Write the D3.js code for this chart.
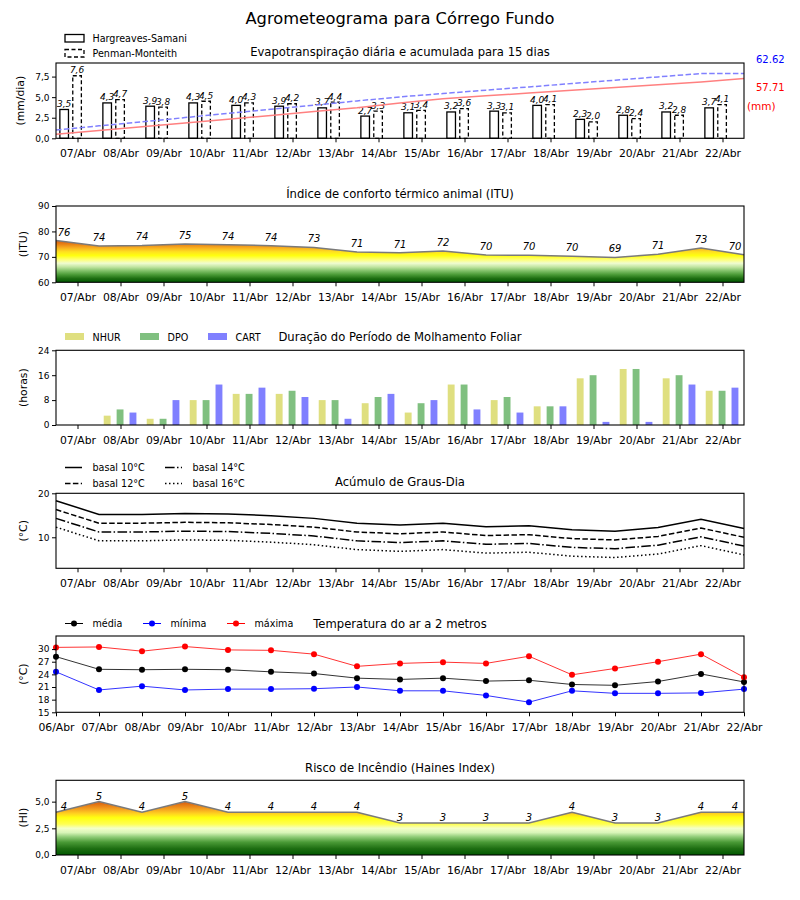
<!DOCTYPE html>
<html>
<head>
<meta charset="utf-8">
<script src="https://cdn.jsdelivr.net/npm/d3@7"></script>
<style>
    body { margin: 0; background: #fff; }
    svg { font-family: "DejaVu Sans", sans-serif; }
</style>
</head>
<body>
<svg id="mainSvg" width="800" height="900"></svg>
<script>
// Data
let days = ["07/Abr", "08/Abr", "09/Abr", "10/Abr", "11/Abr", "12/Abr", "13/Abr", "14/Abr",
    "15/Abr", "16/Abr", "17/Abr", "18/Abr", "19/Abr", "20/Abr", "21/Abr", "22/Abr"];
let tempDays = ["06/Abr"].concat(days);

// Evapotranspiração (mm/dia)
let etHS = [3.5, 4.3, 3.9, 4.3, 4.0, 3.9, 3.7, 2.7, 3.1, 3.2, 3.3, 4.0, 2.3, 2.8, 3.2, 3.7];
let etPM = [7.6, 4.7, 3.8, 4.5, 4.3, 4.2, 4.4, 3.3, 3.4, 3.6, 3.1, 4.1, 2.0, 2.4, 2.8, 4.1];
// acumulada (mm), 17 points on day boundaries
let accHS = [3.9, 7.5, 11.2, 14.8, 18.5, 22.1, 25.8, 29.4, 34.0, 38.3, 41.0, 43.7, 46.4, 49.1, 51.8, 54.4, 57.71];
let accPM = [8.0, 12.0, 16.0, 20.0, 24.0, 28.0, 32.0, 36.1, 40.0, 43.2, 46.5, 49.6, 52.9, 56.1, 59.3, 62.5, 62.62];

// ITU
let itu = [76.4, 74.3, 74.5, 75.1, 74.8, 74.4, 73.7, 71.9, 71.6, 72.3, 70.7, 70.6, 70.2, 69.8, 71.0, 73.5, 70.8];

// Molhamento foliar (horas)
let nhur = [0, 3, 2, 8, 10, 10, 8, 7, 4, 13, 8, 6, 15, 18, 15, 11];
let dpo = [0, 5, 2, 8, 10, 11, 8, 9, 7, 13, 9, 6, 16, 18, 16, 11];
let cart = [0, 4, 8, 13, 12, 9, 2, 10, 8, 5, 4, 6, 1, 1, 13, 12];

// Graus-dia
let gd10 = [18.3, 15.2, 15.2, 15.4, 15.3, 14.9, 14.3, 13.2, 12.8, 13.2, 12.4, 12.6, 11.7, 11.4, 12.2, 14.1, 12.0];
let gd12 = [16.3, 13.2, 13.2, 13.4, 13.3, 12.9, 12.3, 11.2, 10.8, 11.2, 10.4, 10.6, 9.7, 9.4, 10.2, 12.1, 10.0];
let gd14 = [14.3, 11.2, 11.2, 11.4, 11.3, 10.9, 10.3, 9.2, 8.8, 9.2, 8.4, 8.6, 7.7, 7.4, 8.2, 10.1, 8.0];
let gd16 = [12.3, 9.2, 9.2, 9.4, 9.3, 8.9, 8.3, 7.2, 6.8, 7.2, 6.4, 6.6, 5.7, 5.4, 6.2, 8.1, 6.0];

// Temperatura do ar (°C), 06/Abr .. 22/Abr
let tMed = [28.2, 25.2, 25.1, 25.2, 25.1, 24.6, 24.2, 23.1, 22.8, 23.1, 22.4, 22.6, 21.6, 21.4, 22.3, 24.1, 22.2];
let tMin = [24.6, 20.3, 21.2, 20.3, 20.5, 20.5, 20.6, 21.0, 20.1, 20.1, 19.0, 17.4, 20.1, 19.5, 19.5, 19.6, 20.5];
let tMax = [30.4, 30.5, 29.5, 30.6, 29.8, 29.7, 28.8, 25.9, 26.6, 26.9, 26.6, 28.3, 23.9, 25.4, 27.0, 28.8, 23.3];

// Haines
let haines = [4, 5, 4, 5, 4, 4, 4, 4, 3, 3, 3, 3, 4, 3, 3, 4, 4];

// ---------------------------------------------------------------
let svg = d3.select("#mainSvg");
let X0 = 56, X1 = 744;
let x = d3.scaleLinear().domain([-0.5, 15.5]).range([X0, X1]);
let dayIdx = d3.range(days.length);
let edgeIdx = d3.range(17).map((k) => k - 0.5);
let comma = (f) => (d) => d3.format(f)(d).replace(".", ",");

let makePanel = function (top, bottom, domain) {
    let g = svg.append("g");
    let y = d3.scaleLinear().domain(domain).range([bottom, top]);
    return { g: g, y: y, top: top, bottom: bottom };
};

let drawFrame = function (p) {
    p.g.append("rect")
        .attr("x", X0).attr("y", p.top)
        .attr("width", X1 - X0).attr("height", p.bottom - p.top)
        .attr("fill", "none").attr("stroke", "#000").attr("stroke-width", 1.1);
};

let drawXAxis = function (p, values, labels) {
    let a = p.g.append("g")
        .attr("transform", `translate(0,${p.bottom})`)
        .call(d3.axisBottom(x).tickValues(values).tickFormat((d, i) => labels[i])
            .tickSize(4).tickPadding(7).tickSizeOuter(0));
    a.select(".domain").remove();
    a.attr("font-family", null).attr("font-size", 10.8);
    a.selectAll("text").attr("fill", "#000");
    a.selectAll("line").attr("stroke", "#000");
};

let drawYAxis = function (p, values, fmt, label, lx) {
    let a = p.g.append("g")
        .attr("transform", `translate(${X0},0)`)
        .call(d3.axisLeft(p.y).tickValues(values).tickFormat(fmt)
            .tickSize(4).tickPadding(2.5).tickSizeOuter(0));
    a.select(".domain").remove();
    a.attr("font-family", null).attr("font-size", 9);
    a.selectAll("text").attr("fill", "#000");
    a.selectAll("line").attr("stroke", "#000");
    p.g.append("text")
        .attr("transform", `translate(${lx},${(p.top + p.bottom) / 2}) rotate(-90)`)
        .attr("text-anchor", "middle").attr("dominant-baseline", "central")
        .attr("font-size", 10.8).text(label);
};

let drawTitle = function (txt, yc) {
    svg.append("text")
        .attr("x", (X0 + X1) / 2).attr("y", yc)
        .attr("text-anchor", "middle").attr("dominant-baseline", "central")
        .attr("font-size", 11.6).text(txt);
};

let addGradient = function (id, p, stops) {
    let grad = svg.append("defs").append("linearGradient")
        .attr("id", id).attr("gradientUnits", "userSpaceOnUse")
        .attr("x1", 0).attr("x2", 0)
        .attr("y1", p.y(stops[0][0])).attr("y2", p.y(stops[stops.length - 1][0]));
    let v0 = stops[0][0], v1 = stops[stops.length - 1][0];
    grad.selectAll("stop").data(stops).join("stop")
        .attr("offset", (d) => (d[0] - v0) / (v1 - v0))
        .attr("stop-color", (d) => d[1]);
};

// Main title
svg.append("text")
    .attr("x", 400).attr("y", 18)
    .attr("text-anchor", "middle").attr("dominant-baseline", "central")
    .attr("font-size", 16.3).text("Agrometeograma para Córrego Fundo");

// ---------------- Panel 1: evapotranspiração ----------------
let p1 = makePanel(63, 138.3, [0, 9.15]);
let yAcc = d3.scaleLinear().domain([0, 72.7]).range([p1.bottom, p1.top]);
let bw = x(0.2) - x(0);

p1.g.selectAll(".hs").data(etHS).join("rect")
    .attr("x", (d, i) => x(i - 0.31) - bw / 2).attr("y", (d) => p1.y(d))
    .attr("width", bw).attr("height", (d) => p1.y(0) - p1.y(d))
    .attr("fill", "#fff").attr("stroke", "#000").attr("stroke-width", 1.3);
p1.g.selectAll(".pm").data(etPM).join("rect")
    .attr("x", (d, i) => x(i - 0.01) - bw / 2).attr("y", (d) => p1.y(d))
    .attr("width", bw).attr("height", (d) => p1.y(0) - p1.y(d))
    .attr("fill", "#fff").attr("stroke", "#000").attr("stroke-width", 1.3)
    .attr("stroke-dasharray", "4,2.5");

let barLabels = function (vals, off) {
    p1.g.append("g").selectAll("text").data(vals).join("text")
        .attr("x", (d, i) => x(i + off)).attr("y", (d) => p1.y(d) - 2.5)
        .attr("text-anchor", "middle").attr("font-size", 9).attr("font-style", "italic")
        .text(comma(".1f"));
};
barLabels(etHS, -0.31);
barLabels(etPM, -0.01);

let accLine = d3.line().x((d, i) => x(edgeIdx[i])).y((d) => yAcc(d));
p1.g.append("path").datum(accHS).attr("d", accLine)
    .attr("fill", "none").attr("stroke", "#ff8080").attr("stroke-width", 1.5);
p1.g.append("path").datum(accPM).attr("d", accLine)
    .attr("fill", "none").attr("stroke", "#8080ff").attr("stroke-width", 1.5)
    .attr("stroke-dasharray", "5.5,2.4");

drawFrame(p1);
drawXAxis(p1, dayIdx, days);
drawYAxis(p1, [0, 2.5, 5, 7.5], comma(".1f"), "(mm/dia)", 20);
drawTitle("Evapotranspiração diária e acumulada para 15 dias", 51.5);

svg.append("text").attr("x", 756).attr("y", 59.5).attr("dominant-baseline", "central")
    .attr("font-size", 10).attr("fill", "#0000ff").text(accPM[accPM.length - 1].toFixed(2));
svg.append("text").attr("x", 756).attr("y", 87).attr("dominant-baseline", "central")
    .attr("font-size", 10).attr("fill", "#ff0000").text(accHS[accHS.length - 1].toFixed(2));
svg.append("text").attr("x", 747).attr("y", 105.5).attr("dominant-baseline", "central")
    .attr("font-size", 10.5).attr("fill", "#ff0000").text("(mm)");

// legend
let leg1 = svg.append("g");
leg1.append("rect").attr("x", 65).attr("y", 34.5).attr("width", 19).attr("height", 7.5)
    .attr("fill", "#fff").attr("stroke", "#000").attr("stroke-width", 1.3);
leg1.append("rect").attr("x", 65).attr("y", 49.5).attr("width", 19).attr("height", 7.5)
    .attr("fill", "#fff").attr("stroke", "#000").attr("stroke-width", 1.3).attr("stroke-dasharray", "4,2.5");
leg1.append("text").attr("x", 92.5).attr("y", 38.5).attr("dominant-baseline", "central")
    .attr("font-size", 9.6).text("Hargreaves-Samani");
leg1.append("text").attr("x", 92.5).attr("y", 53.5).attr("dominant-baseline", "central")
    .attr("font-size", 9.6).text("Penman-Monteith");

// ---------------- Panel 2: ITU ----------------
let p2 = makePanel(206, 282.3, [60, 90]);
addGradient("gradItu", p2, [
    [60, "#005800"], [61.5, "#1e6e12"], [63, "#4a9a36"], [64.5, "#80c068"],
    [66, "#c0e4a0"], [67.5, "#f0fcd0"], [69, "#ffff70"], [70.5, "#ffff10"],
    [72, "#ffe020"], [73.5, "#f8b020"], [75, "#e88014"], [76.5, "#d85a10"]
]);
let ituArea = d3.area().x((d, i) => x(edgeIdx[i])).y0(p2.y(60)).y1((d) => p2.y(d));
p2.g.append("path").datum(itu).attr("d", ituArea).attr("fill", "url(#gradItu)");
p2.g.append("path").datum(itu)
    .attr("d", d3.line().x((d, i) => x(edgeIdx[i])).y((d) => p2.y(d)))
    .attr("fill", "none").attr("stroke", "#7a7a7a").attr("stroke-width", 1.5);
p2.g.append("g").selectAll("text").data(itu).join("text")
    .attr("x", (d, i) => x(edgeIdx[i]) + (i === 0 ? 8 : i === itu.length - 1 ? -9 : 0))
    .attr("y", (d) => p2.y(d) - 5)
    .attr("text-anchor", "middle").attr("font-size", 10).attr("font-style", "italic")
    .text((d) => Math.floor(d));
drawFrame(p2);
drawXAxis(p2, dayIdx, days);
drawYAxis(p2, [60, 70, 80, 90], d3.format("d"), "(ITU)", 23.5);
drawTitle("Índice de conforto térmico animal (ITU)", 193.5);

// ---------------- Panel 3: molhamento foliar ----------------
let p3 = makePanel(350.3, 425, [0, 24]);
let bw3 = x(0.16) - x(0);
let wetSeries = [
    { name: "NHUR", vals: nhur, off: -0.31, color: "#dfdf80" },
    { name: "DPO", vals: dpo, off: -0.01, color: "#80c080" },
    { name: "CART", vals: cart, off: 0.29, color: "#8080ff" }
];
wetSeries.forEach(function (s) {
    p3.g.append("g").selectAll("rect").data(s.vals).join("rect")
        .attr("x", (d, i) => x(i + s.off) - bw3 / 2).attr("y", (d) => p3.y(d))
        .attr("width", bw3).attr("height", (d) => p3.y(0) - p3.y(d))
        .attr("fill", s.color);
});
drawFrame(p3);
drawXAxis(p3, dayIdx, days);
drawYAxis(p3, [0, 8, 16, 24], d3.format("d"), "(horas)", 23.5);
drawTitle("Duração do Período de Molhamento Foliar", 337);

let legX3 = [65, 140, 208];
wetSeries.forEach(function (s, i) {
    svg.append("rect").attr("x", legX3[i]).attr("y", 333).attr("width", 19).attr("height", 7)
        .attr("fill", s.color);
    svg.append("text").attr("x", legX3[i] + 27.5).attr("y", 337).attr("dominant-baseline", "central")
        .attr("font-size", 9.6).text(s.name);
});

// ---------------- Panel 4: graus-dia ----------------
let p4 = makePanel(493.3, 568.3, [2.95, 20]);
let gdSeries = [
    { name: "basal 10°C", vals: gd10, dash: null },
    { name: "basal 12°C", vals: gd12, dash: "5.5,2.4" },
    { name: "basal 14°C", vals: gd14, dash: "9.6,2.4,1.5,2.4" },
    { name: "basal 16°C", vals: gd16, dash: "1.5,2.5" }
];
let gdLine = d3.line().x((d, i) => x(edgeIdx[i])).y((d) => p4.y(d));
gdSeries.forEach(function (s) {
    p4.g.append("path").datum(s.vals).attr("d", gdLine)
        .attr("fill", "none").attr("stroke", "#000").attr("stroke-width", 1.5)
        .attr("stroke-dasharray", s.dash);
});
drawFrame(p4);
drawXAxis(p4, dayIdx, days);
drawYAxis(p4, [10, 20], d3.format("d"), "(°C)", 23.5);
drawTitle("Acúmulo de Graus-Dia", 481.5);

let legPos4 = [[65, 467.5], [65, 483.5], [165, 467.5], [165, 483.5]];
gdSeries.forEach(function (s, i) {
    svg.append("line").attr("x1", legPos4[i][0]).attr("x2", legPos4[i][0] + 17)
        .attr("y1", legPos4[i][1]).attr("y2", legPos4[i][1])
        .attr("stroke", "#000").attr("stroke-width", 1.5).attr("stroke-dasharray", s.dash);
    svg.append("text").attr("x", legPos4[i][0] + 27.5).attr("y", legPos4[i][1])
        .attr("dominant-baseline", "central").attr("font-size", 9.6).text(s.name);
});

// ---------------- Panel 5: temperatura ----------------
let p5 = makePanel(636, 712.3, [15, 33.1]);
let tSeries = [
    { name: "média", vals: tMed, color: "#000000" },
    { name: "mínima", vals: tMin, color: "#0000ff" },
    { name: "máxima", vals: tMax, color: "#ff0000" }
];
let tLine = d3.line().x((d, i) => x(edgeIdx[i])).y((d) => p5.y(d));
tSeries.forEach(function (s) {
    p5.g.append("path").datum(s.vals).attr("d", tLine)
        .attr("fill", "none").attr("stroke", s.color).attr("stroke-width", 1).attr("opacity", 0.8);
    p5.g.append("g").selectAll("circle").data(s.vals).join("circle")
        .attr("cx", (d, i) => x(edgeIdx[i])).attr("cy", (d) => p5.y(d))
        .attr("r", 3).attr("fill", s.color);
});
drawFrame(p5);
drawXAxis(p5, edgeIdx, tempDays);
drawYAxis(p5, [15, 18, 21, 24, 27, 30], d3.format("d"), "(°C)", 23.5);
drawTitle("Temperatura do ar a 2 metros", 624);

let legX5 = [65, 143, 227];
tSeries.forEach(function (s, i) {
    svg.append("line").attr("x1", legX5[i]).attr("x2", legX5[i] + 18)
        .attr("y1", 623.5).attr("y2", 623.5).attr("stroke", s.color).attr("stroke-width", 1);
    svg.append("circle").attr("cx", legX5[i] + 9).attr("cy", 623.5).attr("r", 3).attr("fill", s.color);
    svg.append("text").attr("x", legX5[i] + 27.5).attr("y", 623.5)
        .attr("dominant-baseline", "central").attr("font-size", 9.6).text(s.name);
});

// ---------------- Panel 6: Haines ----------------
let p6 = makePanel(780.3, 855, [0, 7]);
addGradient("gradHaines", p6, [
    [0, "#005800"], [0.6, "#1e6e12"], [1.2, "#4a9a36"], [1.7, "#90cc78"],
    [2.1, "#d8f4b8"], [2.5, "#f4ffc8"], [2.9, "#ffff50"], [3.5, "#ffff10"],
    [3.9, "#ffd020"], [4.3, "#f4a020"], [4.7, "#e47814"], [5.0, "#d85a10"]
]);
p6.g.append("path").datum(haines)
    .attr("d", d3.area().x((d, i) => x(edgeIdx[i])).y0(p6.y(0)).y1((d) => p6.y(d)))
    .attr("fill", "url(#gradHaines)");
p6.g.append("path").datum(haines)
    .attr("d", d3.line().x((d, i) => x(edgeIdx[i])).y((d) => p6.y(d)))
    .attr("fill", "none").attr("stroke", "#7a7a7a").attr("stroke-width", 1.5);
p6.g.append("g").selectAll("text").data(haines).join("text")
    .attr("x", (d, i) => x(edgeIdx[i]) + (i === 0 ? 8 : i === haines.length - 1 ? -9 : 0))
    .attr("y", (d) => p6.y(d) - 2)
    .attr("text-anchor", "middle").attr("font-size", 10).attr("font-style", "italic")
    .text((d) => d);
drawFrame(p6);
drawXAxis(p6, dayIdx, days);
drawYAxis(p6, [0, 2.5, 5], comma(".1f"), "(HI)", 23.5);
drawTitle("Risco de Incêndio (Haines Index)", 767.5);
</script>
</body>
</html>
